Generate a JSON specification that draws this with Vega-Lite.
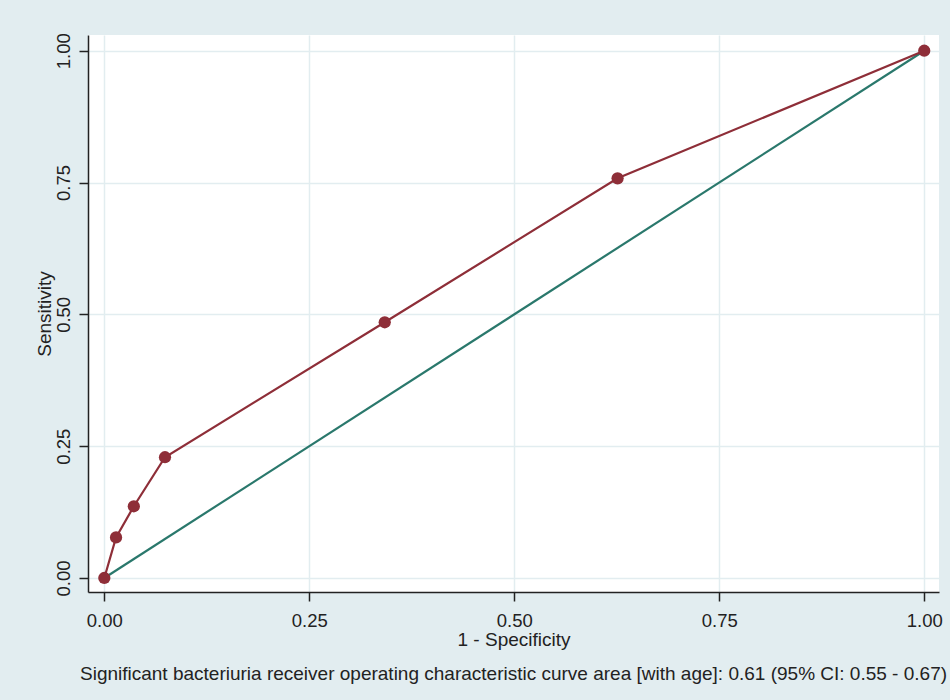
{
  "$schema": "https://vega.github.io/schema/vega-lite/v6.json",
  "width": 851,
  "height": 557,
  "autosize": {"type": "none"},
  "padding": {"left": 88, "top": 35, "right": 11, "bottom": 108},
  "background": "#E2EDF0",
  "config": {
    "font": "Liberation Sans",
    "view": {"fill": "white", "stroke": null},
    "axis": {
      "gridColor": "#E2EDF0",
      "gridWidth": 1.5,
      "domainColor": "#222222",
      "domainWidth": 1.5,
      "tickColor": "#222222",
      "tickWidth": 1.5,
      "tickSize": 9,
      "labelFontSize": 18.5,
      "labelColor": "#222222",
      "titleFontSize": 19,
      "titleFontWeight": "normal",
      "titleColor": "#222222"
    },
    "title": {"fontSize": 19, "fontWeight": "normal", "color": "#222222"}
  },
  "title": {
    "text": "Significant bacteriuria receiver operating characteristic curve area [with age]: 0.61 (95% CI: 0.55 - 0.67)",
    "orient": "bottom",
    "anchor": "middle",
    "offset": 15
  },
  "layer": [
    {
      "data": {"values": [{"fpr": 0, "tpr": 0}, {"fpr": 1, "tpr": 1}]},
      "mark": {"type": "line", "color": "#2A786C", "strokeWidth": 2.2},
      "encoding": {
        "x": {"field": "fpr", "type": "quantitative"},
        "y": {"field": "tpr", "type": "quantitative"}
      }
    },
    {
      "data": {"values": [
        {"fpr": 0, "tpr": 0},
        {"fpr": 0.0143, "tpr": 0.077},
        {"fpr": 0.036, "tpr": 0.136},
        {"fpr": 0.074, "tpr": 0.229},
        {"fpr": 0.342, "tpr": 0.485},
        {"fpr": 0.626, "tpr": 0.758},
        {"fpr": 1, "tpr": 1}
      ]},
      "mark": {"type": "line", "color": "#8E2E38", "strokeWidth": 2.2, "point": {"filled": true, "size": 150, "color": "#8E2E38", "opacity": 1}},
      "encoding": {
        "x": {
          "field": "fpr", "type": "quantitative",
          "scale": {"domain": [-0.0199, 1.018], "nice": false, "zero": false},
          "axis": {"values": [0, 0.25, 0.5, 0.75, 1], "format": ".2f", "title": "1 - Specificity", "labelPadding": 10, "titlePadding": 1}
        },
        "y": {
          "field": "tpr", "type": "quantitative",
          "scale": {"domain": [-0.0266, 1.0298], "nice": false, "zero": false},
          "axis": {"values": [0, 0.25, 0.5, 0.75, 1], "format": ".2f", "title": "Sensitivity", "labelAngle": -90, "labelAlign": "center", "labelBaseline": "bottom", "labelPadding": 6, "titlePadding": 0}
        }
      }
    }
  ]
}
